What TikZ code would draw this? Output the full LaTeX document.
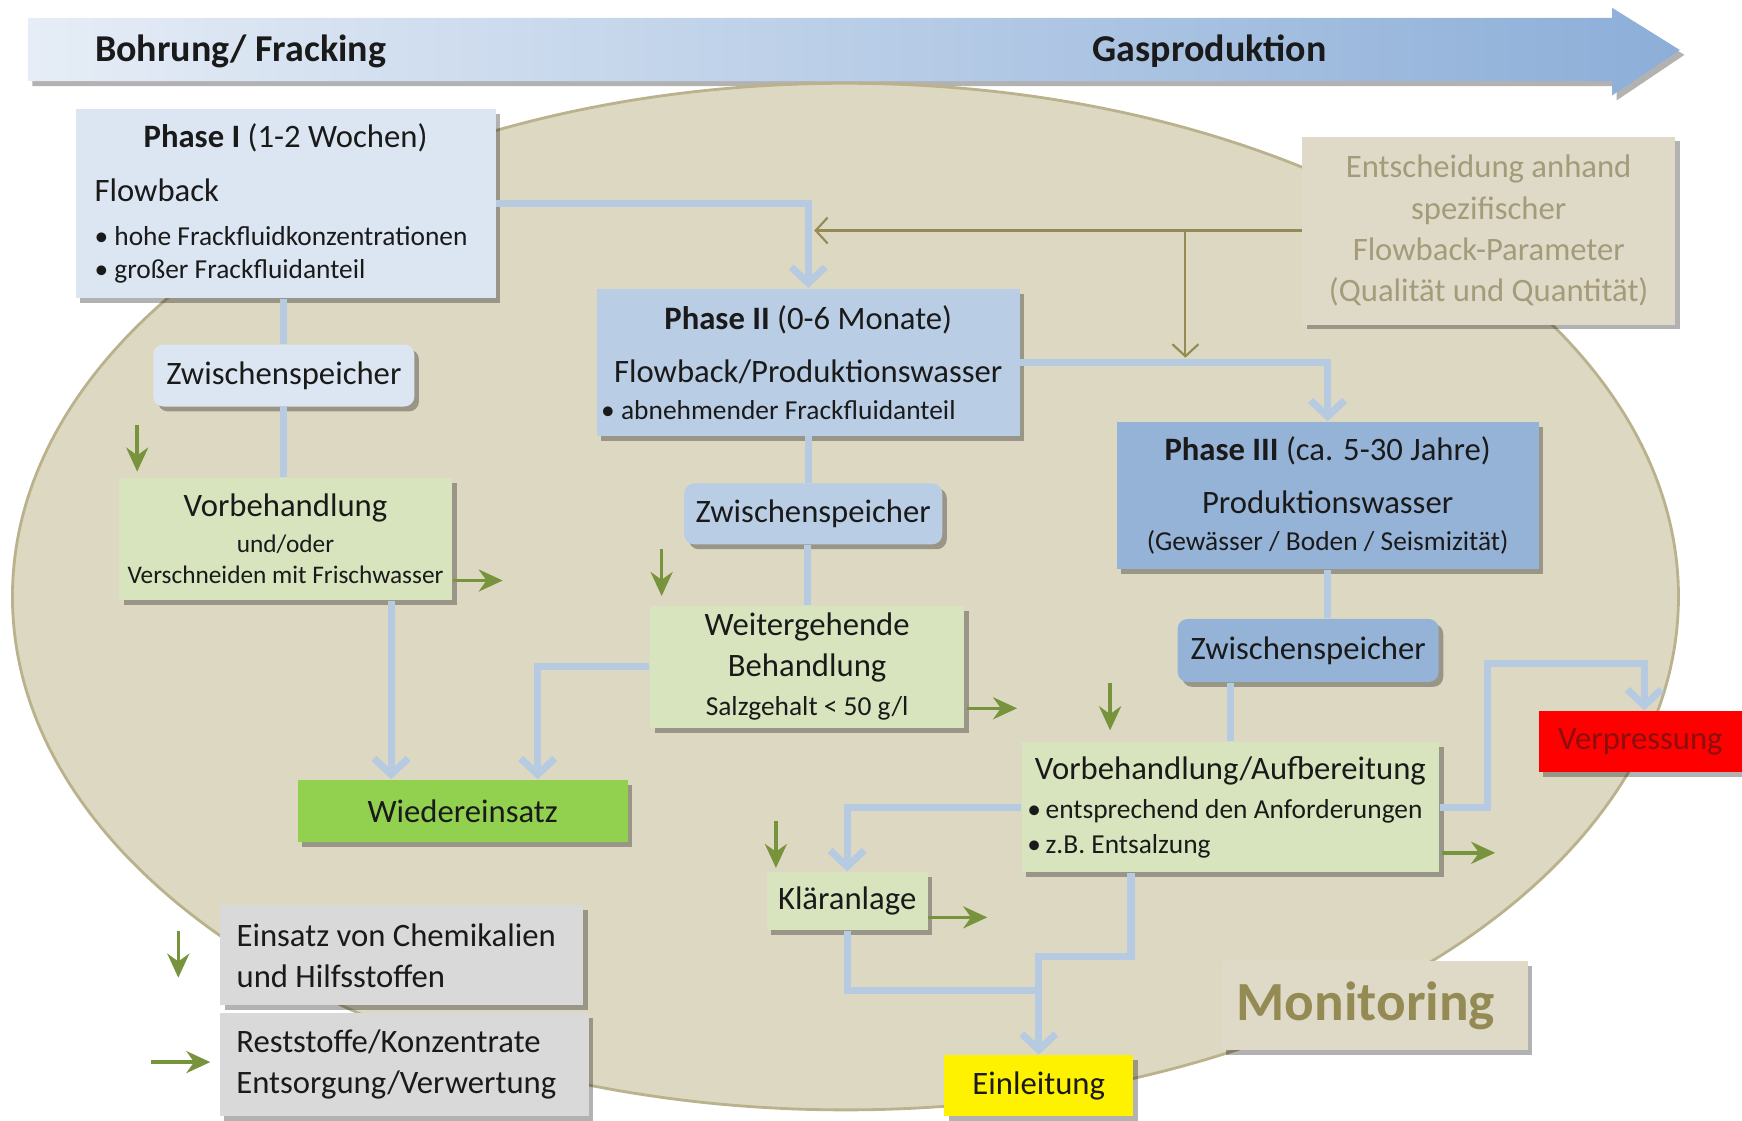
\documentclass[tikz,border=0pt]{standalone}
\usepackage{fontspec}
\setmainfont{Carlito}
\usetikzlibrary{calc,shadows,arrows.meta}

\definecolor{beige}{RGB}{221,216,194}
\definecolor{beigeline}{RGB}{186,178,140}
\definecolor{entsbg}{RGB}{223,218,199}
\definecolor{entstxt}{RGB}{163,155,122}
\definecolor{khaki}{RGB}{148,138,84}
\definecolor{lblue}{RGB}{220,230,242}
\definecolor{mblue}{RGB}{185,205,229}
\definecolor{dblue}{RGB}{149,179,215}
\definecolor{lgreen}{RGB}{215,228,189}
\definecolor{sgreen}{RGB}{146,208,80}
\definecolor{arrgreen}{RGB}{119,147,60}
\definecolor{linblue}{RGB}{182,202,226}
\definecolor{lgray}{RGB}{217,217,217}
\definecolor{txt}{RGB}{26,26,26}
\definecolor{topl}{RGB}{230,237,246}
\definecolor{topr}{RGB}{140,174,216}
\definecolor{verptxt}{RGB}{140,15,15}

\def\bul{\textbullet\ }
\def\mainf{\fontsize{9.3}{11}\selectfont}
\def\smallf{\fontsize{7.8}{9.4}\selectfont}
\def\tinyf{\fontsize{7.2}{8.6}\selectfont}

\tikzset{
	shad/.style={drop shadow={shadow xshift=1.3pt, shadow yshift=-1.4pt, opacity=0.3, fill=black}},
	box/.style={shad, inner sep=0pt, align=center, font=\mainf, text=txt},
	zbox/.style={box, rounded corners=1mm},
	toplabel/.style={font=\fontsize{10.8}{13}\selectfont\bfseries, text=txt, anchor=base west, inner sep=0pt},
	bline/.style={draw=linblue, line width=2pt},
	barr/.style={bline, -{Straight Barb[length=1.6mm, width=3.4mm]}},
	garr/.style={draw=arrgreen, line width=1pt, -{Stealth[length=2.4mm, width=2.2mm]}},
	oarr/.style={draw=khaki, line width=0.6pt, -{Straight Barb[length=1.2mm, width=2.6mm]}}
}

\begin{document}
\begin{tikzpicture}[x=0.1111mm, y=-0.1111mm]
	%%%%% START %%%%%
	\useasboundingbox (0,0) rectangle (1568,1009);
	
	% time arrow
	\path[shad, left color=topl, right color=topr] (25,16) -- (1451,16) -- (1451,7) -- (1512,45) -- (1451,86) -- (1451,73) -- (25,73) -- cycle;
	\node[toplabel] (bohr) at (85,55) {Bohrung/ Fracking};
	\node[toplabel] (gas) at (983,55) {Gasproduktion};
	
	% monitoring area
	\draw[fill=beige, draw=beigeline, line width=0.8pt] (761,537) ellipse [x radius=83.3mm, y radius=51.33mm];
	
	% phase I
	\node[box, fill=lblue, minimum width=42mm, minimum height=18.9mm] (ph1) at (257,183) {%
		\textbf{Phase I} (1-2 Wochen)\\[4.6pt]
		\makebox[38.2mm][l]{Flowback}\\[1.3pt]
		\makebox[38.2mm][l]{\smallf\bul hohe Frackfluidkonzentrationen}\\[-1.5pt]
		\makebox[38.2mm][l]{\smallf\bul großer Frackfluidanteil}};
	\node[zbox, fill=lblue, minimum width=26.1mm, minimum height=6.2mm] (zw1) at (255.5,338) {Zwischenspeicher};
	\node[box, fill=lgreen, minimum width=33.3mm, minimum height=12.2mm] (vb1) at (257,485) {%
		Vorbehandlung\\[-0.9pt]
		{\tinyf und/oder}\\[-2.1pt]
		{\tinyf Verschneiden mit Frischwasser}};
	\node[box, fill=sgreen, minimum width=33mm, minimum height=6.2mm] (wied) at (416.5,730) {Wiedereinsatz};
	
	% phase II
	\node[box, fill=mblue, minimum width=42.3mm, minimum height=14.7mm] (ph2) at (727.5,326) {%
		\textbf{Phase II} (0-6 Monate)\\[4.2pt]
		Flowback/Produktionswasser\\[-0.6pt]
		\makebox[41.4mm][l]{\smallf\bul abnehmender Frackfluidanteil}};
	\node[zbox, fill=mblue, minimum width=25.8mm, minimum height=6.1mm] (zw2) at (732,462.5) {Zwischenspeicher};
	\node[box, fill=lgreen, minimum width=31.4mm, minimum height=12.2mm] (wb) at (726.5,600) {%
		Weitergehende\\[0.7pt]
		Behandlung\\[0.1pt]
		{\smallf Salzgehalt < 50 g/l}};
	
	% phase III
	\node[box, fill=dblue, minimum width=42.2mm, minimum height=14.7mm] (ph3) at (1195,446) {%
		\textbf{Phase III} (ca. 5-30 Jahre)\\[4.2pt]
		Produktionswasser\\[-0.6pt]
		{\smallf(Gewässer / Boden / Seismizität)}};
	\node[zbox, fill=dblue, minimum width=26.1mm, minimum height=6.3mm] (zw3) at (1177.5,585.5) {Zwischenspeicher};
	\node[box, fill=lgreen, minimum width=41.7mm, minimum height=13mm] (va) at (1107.5,726.5) {%
		Vorbehandlung/Aufbereitung\\[0.1pt]
		\makebox[40.6mm][l]{\smallf\textbullet\,entsprechend den Anforderungen}\\[-1.2pt]
		\makebox[40.6mm][l]{\smallf\textbullet\,z.B. Entsalzung}};
	\node[box, fill=lgreen, minimum width=16.1mm, minimum height=5.8mm] (kl) at (762.5,811) {Kläranlage};
	\node[box, fill=yellow, minimum width=18.9mm, minimum height=6.1mm] (einl) at (935,977.5) {Einleitung};
	\node[box, fill=red, text=verptxt, minimum width=20.3mm, minimum height=6.1mm] (verp) at (1476.5,667.5) {Verpressung};
	
	% decision + monitoring
	\node[box, fill=entsbg, text=entstxt, minimum width=37.3mm, minimum height=18.8mm] (ents) at (1340,207.5) {%
		Entscheidung anhand\\[0.7pt]
		spezifischer\\[0.7pt]
		Flowback-Parameter\\[0.7pt]
		(Qualität und Quantität)};
	\node[box, fill=entsbg, text=khaki, font=\fontsize{15.7}{18}\selectfont\bfseries, minimum width=30.6mm, minimum height=8.9mm] (mon) at (1237.5,905) {Monitoring\hspace*{1.8mm}};
	
	% legend
	\node[box, fill=lgray, minimum width=36.3mm, minimum height=10mm] (chem) at (361.5,860) {%
		\makebox[33mm][l]{Einsatz von Chemikalien}\\[0.7pt]
		\makebox[33mm][l]{und Hilfsstoffen}};
	\node[box, fill=lgray, minimum width=36.9mm, minimum height=10.3mm] (rest) at (364,958.5) {%
		\makebox[33.6mm][l]{Reststoffe/Konzentrate}\\[0.7pt]
		\makebox[33.6mm][l]{Entsorgung/Verwertung}};
	
	% water paths
	\draw[barr] (ph1.east) -| (ph2.north);
	\draw[bline] (zw1.north |- ph1.south) -- (zw1.north);
	\draw[bline] (zw1.south) -- (zw1.south |- vb1.north);
	\coordinate (vbw) at ($(vb1.south)+(95,0)$);
	\draw[barr] (vbw) -- (vbw |- wied.north);
	\draw[barr] (wb.west) -| ($(wied.north)+(67.5,0)$);
	\draw[bline] (ph2.south) -- (ph2.south |- zw2.north);
	\draw[bline] (wb.north |- zw2.south) -- (wb.north);
	\draw[barr] (ph2.east) -| (ph3.north);
	\draw[bline] (ph3.south) -- (ph3.south |- zw3.north);
	\draw[bline] (va.north |- zw3.south) -- (va.north);
	\coordinate (vpk) at ($(verp.north)+(3.5,-42)$);
	\draw[barr] (va.east) -- ++(43,0) |- (vpk) -- (vpk |- verp.north);
	\draw[barr] (va.west) -| (kl.north);
	\coordinate (vas) at ($(va.south)+(-89.5,0)$);
	\draw[barr] (vas) -- ++(0,75) -| (einl.north);
	\draw[bline] (kl.south) |- ($(einl.north)+(0,-58)$);
	
	% decision arrows
	\draw[oarr] (ents.west) -- ([xshift=0.6mm]ph2.north |- ents.west);
	\draw[oarr] (ents.west -| 1067,0) -- ([yshift=0.45mm]ph2.east -| 1067,0);
	
	% chemicals in, residues out
	\draw[garr] ($(vb1.north west)+(17,-47)$) -- ++(0,42);
	\draw[garr] ($(vb1.south east)+(0,-18)$) -- ++(45,0);
	\draw[garr] ($(wb.north west)+(11,-50)$) -- ++(0,42);
	\draw[garr] ($(wb.south east)+(2,-18)$) -- ++(45,0);
	\draw[garr] ($(va.north west)+(80,-53)$) -- ++(0,43);
	\draw[garr] ($(va.south east)+(2,-18)$) -- ++(48,0);
	\draw[garr] ($(kl.north west)+(9,-45)$) -- ++(0,42);
	\draw[garr] ($(kl.south east)+(0,-12)$) -- ++(53,0);
	\draw[garr] ($(chem.west)+(-37,-22)$) -- ++(0,42);
	\draw[garr] ($(rest.west)+(-61,-2.5)$) -- ++(53,0);
	%%%%% END %%%%%
\end{tikzpicture}
\end{document}
